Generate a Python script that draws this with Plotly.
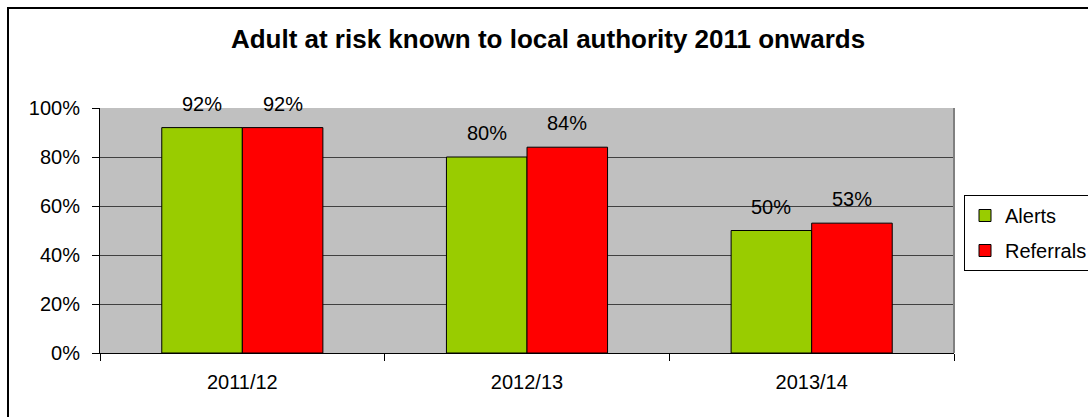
import plotly.graph_objects as go

# Chart data
categories = ["2011/12", "2012/13", "2013/14"]
alerts = [92, 80, 50]
referrals = [92, 84, 53]
series_names = ["Alerts", "Referrals"]
series_colors = ["#99CC00", "#FF0000"]
y_ticks = [0, 20, 40, 60, 80, 100]
y_tick_labels = ["0%", "20%", "40%", "60%", "80%", "100%"]

W, H = 1088, 417
M_L, M_R, M_T, M_B = 100, 134, 108, 64
BARGAP = 0.434
FONT = "Liberation Sans, Arial, sans-serif"

fig = go.Figure()
for i, (name, vals, col) in enumerate(zip(series_names, [alerts, referrals], series_colors)):
    fig.add_trace(go.Bar(
        x=categories, y=vals, name=name, legendgroup=name,
        marker=dict(color=col, line=dict(color="#000000", width=1)),
        hoverinfo="skip",
    ))

# Value labels above each bar
plot_w = W - M_L - M_R
plot_h = H - M_T - M_B
bar_px = plot_w / len(categories) * (1 - BARGAP) / 2
annotations = []
for i, vals in enumerate([alerts, referrals]):
    for cat, v in zip(categories, vals):
        annotations.append(dict(
            x=cat, y=v, xref="x", yref="y", text=f"{v}%", showarrow=False,
            xshift=(i - 0.5) * bar_px, yshift=11, yanchor="bottom",
            font=dict(family=FONT, size=20, color="#000000"),
        ))

# Frame around the whole chart and the grey right edge of the plot area
shapes = [
    dict(type="rect", xref="paper", yref="paper",
         x0=(8 - M_L) / plot_w, x1=(W + 20 - M_L) / plot_w,
         y0=-(M_B + 20) / plot_h, y1=1 + (M_T - 8) / plot_h,
         line=dict(color="#000000", width=2), layer="above"),
    dict(type="line", xref="paper", yref="paper", x0=1, x1=1, y0=0, y1=1,
         line=dict(color="#808080", width=2), layer="above"),
]

fig.update_layout(
    width=W, height=H,
    margin=dict(l=M_L, r=M_R, t=M_T, b=M_B, autoexpand=False),
    paper_bgcolor="#FFFFFF", plot_bgcolor="#C0C0C0",
    barmode="group", bargap=BARGAP, bargroupgap=0,
    font=dict(family=FONT, size=20, color="#000000"),
    title=dict(text="<b>Adult at risk known to local authority 2011 onwards</b>",
               x=548 / W, xref="container", xanchor="center",
               y=1 - 39 / H, yref="container", yanchor="middle",
               font=dict(family=FONT, size=26, color="#000000")),
    legend=dict(x=964 / W, xref="container", xanchor="left",
                y=1 - 195 / H, yref="container", yanchor="top",
                bgcolor="#FFFFFF", bordercolor="#000000", borderwidth=1,
                tracegroupgap=6, font=dict(family=FONT, size=20, color="#000000")),
    xaxis=dict(showline=True, linecolor="#000000", linewidth=1, ticks="outside",
               tickson="boundaries", ticklen=7, tickcolor="#000000", showgrid=False,
               ticklabelstandoff=11, fixedrange=True),
    yaxis=dict(range=[0, 100], tickvals=y_ticks, ticktext=y_tick_labels,
               showline=True, linecolor="#000000", linewidth=1, ticks="outside",
               ticklen=7, tickcolor="#000000", showgrid=True, gridcolor="#404040",
               gridwidth=1, zeroline=False, ticklabelstandoff=8, fixedrange=True),
    annotations=annotations, shapes=shapes,
)

fig.write_html("out.html", config=dict(displayModeBar=False))
